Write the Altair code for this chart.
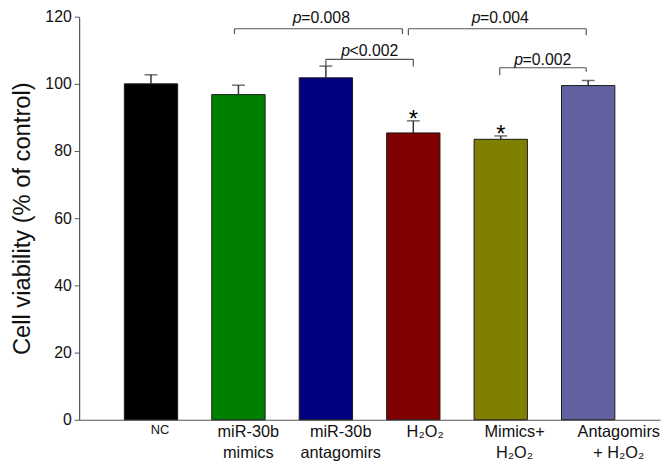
import altair as alt
import pandas as pd
import json

# ---- data ----
categories = ["NC", "miR-30b|mimics", "miR-30b|antagomirs", "H₂O₂", "Mimics+|H₂O₂", "Antagomirs|+ H₂O₂"]
values = [100.0, 96.8, 101.8, 85.4, 83.5, 99.5]
err_top = [102.7, 99.6, 105.3, 89.0, 84.5, 101.0]
colors = ["#000000", "#008000", "#000080", "#800000", "#808000", "#6161A1"]
label_sizes = [13, 16.5, 16.5, 16.5, 16.5, 16.5]
label_offsets = [9, 10, 15, 12, 14, 31]

star_cats = ["H₂O₂", "Mimics+|H₂O₂"]
star_y = [89.0, 84.5]

br_left = ["miR-30b|mimics", "H₂O₂", "miR-30b|antagomirs", "Mimics+|H₂O₂"]
br_right = ["H₂O₂", "Antagomirs|+ H₂O₂", "H₂O₂", "Antagomirs|+ H₂O₂"]
br_y = [116.4, 116.4, 107.3, 104.8]
br_left_end = [114.8, 114.5, 105.3, 102.6]
br_right_end = [114.8, 114.5, 105.2, 103.6]
br_left_dx = [-4, -5, 0, -1]
br_right_dx = [-11, -2, 0, -2]
br_text = ["=0.008", "=0.004", "<0.002", "=0.002"]
br_text_cat = ["miR-30b|antagomirs", "Mimics+|H₂O₂", "miR-30b|antagomirs", "Mimics+|H₂O₂"]
br_text_dx = [-25, -21, 24, 22]
br_text_y = [118.1, 118.1, 108.2, 105.7]

FONT = "Liberation Sans"
df = pd.DataFrame({"cat": categories, "value": values, "top": err_top})

dom_json = json.dumps(categories, ensure_ascii=False)
size_expr = f"{json.dumps(label_sizes)}[indexof({dom_json}, datum.value)]"
off_expr = f"{json.dumps(label_offsets)}[indexof({dom_json}, datum.value)]"

xscale = alt.Scale(domain=categories, paddingInner=0.39, paddingOuter=0.517)
yscale = alt.Scale(domain=[0, 120])

x_axis = alt.Axis(
    title=None, labelAngle=0, ticks=False, tickSize=0, labelPadding=4,
    labelExpr="split(datum.label, '|')", labelFont=FONT, labelColor="#111",
    labelFontSize=alt.ExprRef(size_expr), labelOffset=alt.ExprRef(off_expr),
    labelLineHeight=21, domainColor="#555", domainWidth=1.2, labelLimit=200,
)
y_axis = alt.Axis(
    title="Cell viability (% of control)", values=[0, 20, 40, 60, 80, 100, 120],
    grid=False, tickSize=5, tickColor="#555", domainColor="#555", domainWidth=1.2,
    labelFont=FONT, labelFontSize=16, labelColor="#111", labelPadding=3,
    titleFont=FONT, titleFontSize=24, titleFontWeight="normal", titleColor="#111",
    titleX=-50, titleY=204, titleBaseline="alphabetic", titleAlign="center", titleAngle=-90,
)

bars = alt.Chart(df).mark_bar(stroke="#1a1a1a", strokeWidth=1).encode(
    x=alt.X("cat:N", scale=xscale, axis=x_axis, sort=categories),
    y=alt.Y("value:Q", scale=yscale, axis=y_axis),
    color=alt.Color("cat:N", scale=alt.Scale(domain=categories, range=colors), legend=None),
)

err_rule = alt.Chart(df).mark_rule(color="#333", strokeWidth=1.5).encode(
    x=alt.X("cat:N", scale=xscale, sort=categories),
    y=alt.Y("value:Q", scale=yscale),
    y2="top:Q",
)
err_cap = alt.Chart(df).mark_tick(color="#333", thickness=1.5, size=13).encode(
    x=alt.X("cat:N", scale=xscale, sort=categories),
    y=alt.Y("top:Q", scale=yscale),
)

stars = alt.Chart(pd.DataFrame({"cat": star_cats, "y": star_y, "t": ["*", "*"]})).mark_text(
    font=FONT, fontSize=24, baseline="alphabetic", align="center", dy=6, color="#000"
).encode(
    x=alt.X("cat:N", scale=xscale, sort=categories),
    y=alt.Y("y:Q", scale=yscale),
    text="t:N",
)

layers = [bars, err_rule, err_cap, stars]
BR_COLOR = "#555"
for i in range(len(br_left)):
    hd = pd.DataFrame({"a": [br_left[i]], "b": [br_right[i]], "y": [br_y[i]]})
    layers.append(
        alt.Chart(hd).mark_rule(color=BR_COLOR, strokeWidth=1.2, xOffset=br_left_dx[i], x2Offset=br_right_dx[i]).encode(
            x=alt.X("a:N", scale=xscale, sort=categories),
            x2="b:N",
            y=alt.Y("y:Q", scale=yscale),
        )
    )
    ld = pd.DataFrame({"a": [br_left[i]], "y": [br_y[i]], "y2": [br_left_end[i]]})
    layers.append(
        alt.Chart(ld).mark_rule(color=BR_COLOR, strokeWidth=1.2, xOffset=br_left_dx[i]).encode(
            x=alt.X("a:N", scale=xscale, sort=categories),
            y=alt.Y("y:Q", scale=yscale),
            y2="y2:Q",
        )
    )
    rd = pd.DataFrame({"a": [br_right[i]], "y": [br_y[i]], "y2": [br_right_end[i]]})
    layers.append(
        alt.Chart(rd).mark_rule(color=BR_COLOR, strokeWidth=1.2, xOffset=br_right_dx[i]).encode(
            x=alt.X("a:N", scale=xscale, sort=categories),
            y=alt.Y("y:Q", scale=yscale),
            y2="y2:Q",
        )
    )
    td = pd.DataFrame({"a": [br_text_cat[i]], "y": [br_text_y[i]], "p": ["p"], "t": [br_text[i]]})
    layers.append(
        alt.Chart(td).mark_text(font=FONT, fontSize=16, fontStyle="italic", align="right",
                                baseline="alphabetic", dx=br_text_dx[i] + 0.5, color="#111").encode(
            x=alt.X("a:N", scale=xscale, sort=categories),
            y=alt.Y("y:Q", scale=yscale),
            text="p:N",
        )
    )
    layers.append(
        alt.Chart(td).mark_text(font=FONT, fontSize=16, align="left",
                                baseline="alphabetic", dx=br_text_dx[i], color="#111").encode(
            x=alt.X("a:N", scale=xscale, sort=categories),
            y=alt.Y("y:Q", scale=yscale),
            text="t:N",
        )
    )

chart = alt.layer(*layers).properties(
    width=588, height=408,
    autosize=alt.AutoSizeParams(type="none"),
    padding={"left": 72, "top": 6, "right": 4, "bottom": 44},
    background="white",
).configure_view(stroke=None)

chart.save("out.html", embed_options={"renderer": "svg", "actions": False})
